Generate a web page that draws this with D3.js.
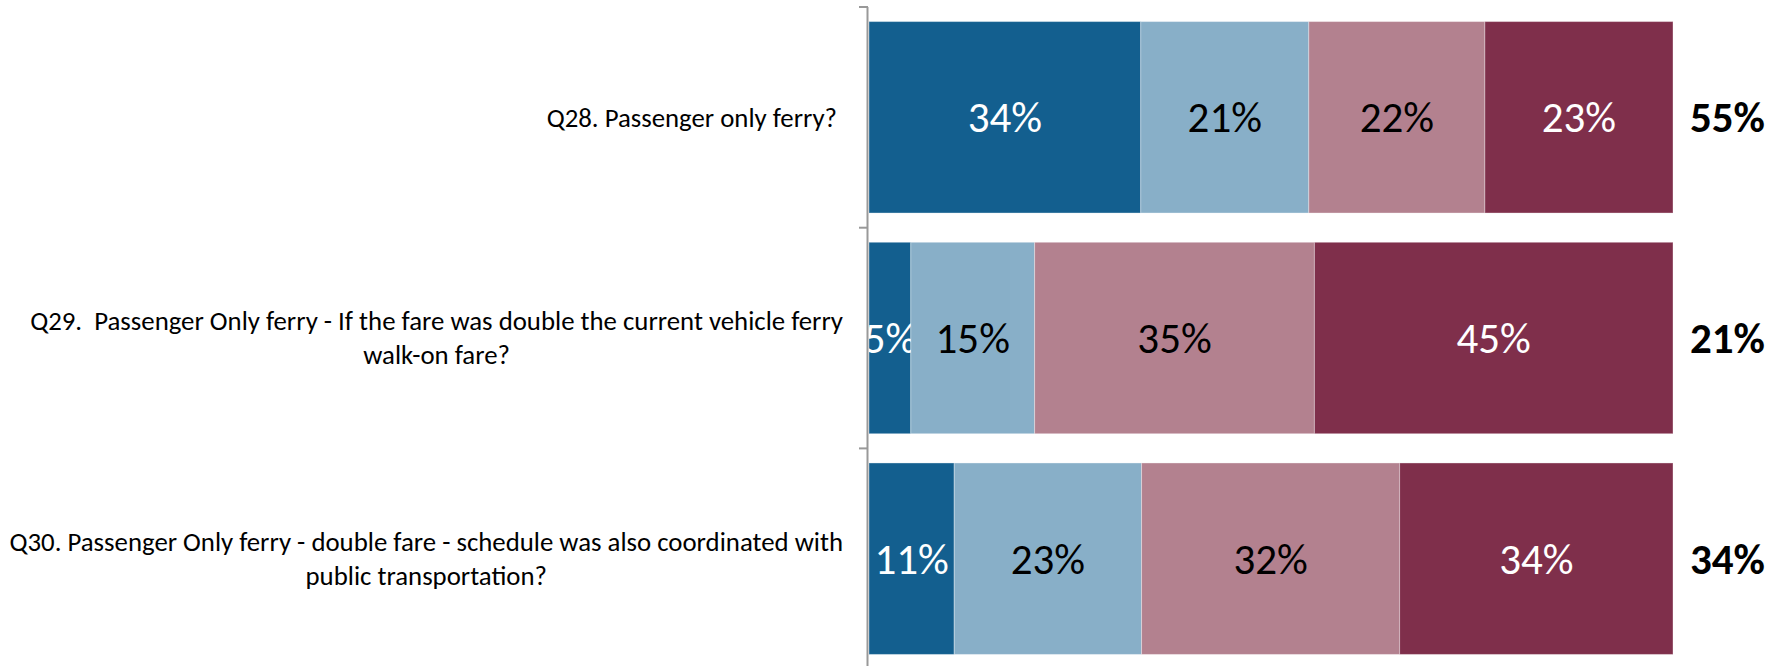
<!DOCTYPE html>
<html>
<head>
<meta charset="utf-8">
<script src="https://cdn.jsdelivr.net/npm/d3@7"></script>
<style>
  body { margin: 0; background: #fff; }
  text { font-family: Carlito, Calibri, Lato, "Liberation Sans", sans-serif; white-space: pre; }
</style>
</head>
<body>
<div id="chart"></div>
<script>
// questions, each row split into 4 answer shares (percent)
var questions = [
  ["Q28. Passenger only ferry?"],
  ["Q29.  Passenger Only ferry - If the fare was double the current vehicle ferry", "walk-on fare?"],
  ["Q30. Passenger Only ferry - double fare - schedule was also coordinated with", "public transportation?"]
];
var seg1 = [33.8, 5.2, 10.6];
var seg2 = [20.9, 15.4, 23.3];
var seg3 = [21.9, 34.8, 32.1];
var seg4 = [23.4, 44.6, 34.0];
var totals = ["55%", "21%", "34%"];

var colors = ["#135f8f", "#88afc8", "#b3818f", "#7f2f4b"];
var labelColors = ["#fff", "#000", "#000", "#fff"];

var width = 1781, height = 666;
var margin = { left: 868, right: 108, top: 7, bottom: -3 };

var rows = questions.map(function(q, i){
  return { q: q, vals: [seg1[i], seg2[i], seg3[i], seg4[i]], total: totals[i], idx: i };
});

var svg = d3.select("#chart").append("svg")
    .attr("width", width)
    .attr("height", height);

var x = d3.scaleLinear()
    .domain([0, 100])
    .range([margin.left + 1, width - margin.right]);

var y = d3.scaleBand()
    .domain(rows.map(function(d){ return d.idx; }))
    .range([margin.top, height - margin.bottom])
    .paddingInner(0.1325)
    .paddingOuter(0.066);

var step = y.step();

// stacked segments
var g = svg.selectAll("g.row")
    .data(rows)
  .enter().append("g")
    .attr("class", "row");

g.each(function(d){
  var row = d3.select(this), acc = 0;
  d.vals.forEach(function(v, k){
    var x0 = x(acc), x1 = x(acc + v);
    acc += v;
    row.append("rect")
      .attr("x", x0)
      .attr("y", y(d.idx))
      .attr("width", x1 - x0)
      .attr("height", y.bandwidth())
      .style("fill", colors[k])
      .style("stroke", "rgba(255,255,255,0.35)")
      .style("stroke-width", 1);
    row.append("text")
      .attr("x", (x0 + x1) / 2)
      .attr("y", y(d.idx) + y.bandwidth() / 2)
      .attr("dy", "0.35em")
      .attr("text-anchor", "middle")
      .style("font-size", "43px")
      .style("fill", labelColors[k])
      .text(Math.round(v) + "%");
  });
  row.append("text")
    .attr("x", x(100) + 17)
    .attr("y", y(d.idx) + y.bandwidth() / 2)
    .attr("dy", "0.35em")
    .style("font-size", "43px")
    .style("font-weight", "bold")
    .style("fill", "#000")
    .text(d.total);
});

// category labels
var labelRight = 843, lineH = 34;
g.each(function(d){
  var cy = y(d.idx) + y.bandwidth() / 2;
  var t = d3.select(this).append("text")
      .style("font-size", "26.8px")
      .style("fill", "#000");
  if (d.q.length === 1) {
    t.attr("x", labelRight - 6).attr("y", cy).attr("dy", "0.35em")
      .attr("text-anchor", "end").text(d.q[0]);
  } else {
    var first = t.append("tspan").attr("y", cy - lineH / 2).attr("dy", "0.35em").text(d.q[0]);
    var w = first.node().getComputedTextLength();
    var cx = labelRight - w / 2;
    t.attr("text-anchor", "middle");
    first.attr("x", cx);
    t.append("tspan").attr("x", cx).attr("y", cy + lineH / 2).attr("dy", "0.35em").text(d.q[1]);
  }
});

// category axis with boundary ticks
svg.append("line")
    .attr("x1", margin.left - 0.5).attr("x2", margin.left - 0.5)
    .attr("y1", margin.top).attr("y2", height)
    .style("stroke", "#999").style("stroke-width", 2);

svg.selectAll("line.tick")
    .data(d3.range(rows.length + 1))
  .enter().append("line")
    .attr("class", "tick")
    .attr("x1", margin.left - 9).attr("x2", margin.left)
    .attr("y1", function(i){ return margin.top + i * step; })
    .attr("y2", function(i){ return margin.top + i * step; })
    .style("stroke", "#999").style("stroke-width", 2);
</script>
</body>
</html>
